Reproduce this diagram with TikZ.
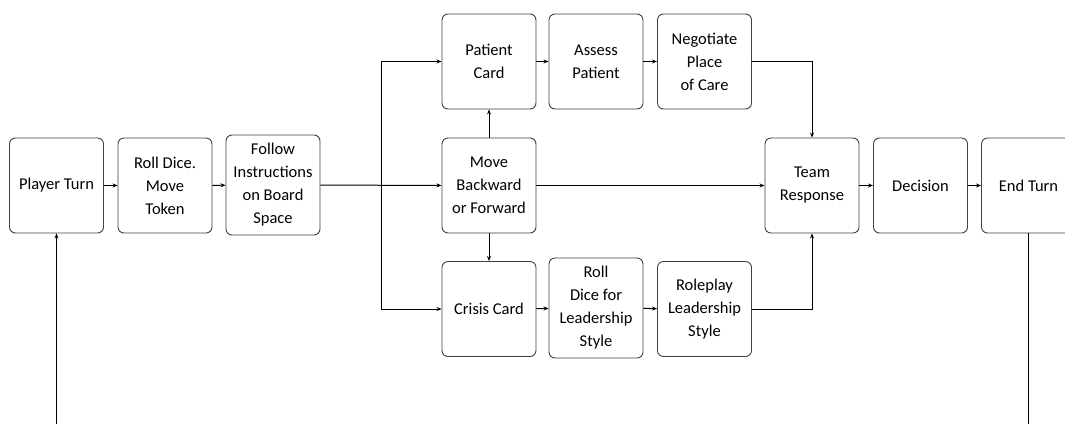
\documentclass[tikz,border=0pt]{standalone}
\usepackage{fontspec}
\setmainfont{Carlito}
\usetikzlibrary{arrows.meta}
\begin{document}
\begin{tikzpicture}[x=1pt,y=-1pt,
  box/.style={draw=black!75, line width=0.9pt, rounded corners=6pt, fill=white,
    minimum width=94pt, minimum height=95pt, inner sep=2pt, align=center,
    font=\fontsize{16.5}{23}\selectfont, text=black},
  tall/.style={minimum height=100pt},
  conn/.style={draw=black, line width=1pt},
  arr/.style={conn, -{Stealth[length=5pt,width=4pt]}}]
\useasboundingbox (0,0) rectangle (1065,424);
\begin{scope}
\clip (0,0) rectangle (1065,424);
\node[box] (pt) at (56.5,185.5) {Player Turn};
\node[box] (roll) at (165,185.5) {Roll Dice.\\Move\\Token};
\node[box,tall] (follow) at (273,185) {Follow\\Instructions\\on Board\\Space};
\node[box] (patient) at (489,61.5) {Patient\\Card};
\node[box] (assess) at (596,61.5) {Assess\\Patient};
\node[box] (negot) at (704.5,61.5) {Negotiate\\Place\\of Care};
\node[box] (move) at (489,185.5) {Move\\Backward\\or Forward};
\node[box] (crisis) at (489,309) {Crisis Card};
\node[box,tall] (rolld) at (596,308) {Roll\\Dice for\\Leadership\\Style};
\node[box] (role) at (704.5,309) {Roleplay\\Leadership\\Style};
\node[box] (team) at (812,185.5) {Team\\Response};
\node[box] (dec) at (920.5,185.5) {Decision};
\node[box] (endt) at (1028.5,185.5) {End Turn};
\coordinate (br) at (381,185.5);
\coordinate (lb) at (56.5,424);
\coordinate (rb) at (1028.5,424);

\draw[arr] (pt) -- (roll);
\draw[arr] (roll) -- (follow);
\draw[arr] (follow) -- (move);
\draw[arr] (br) |- (patient.west);
\draw[arr] (br) |- (crisis.west);
\draw[arr] (move) -- (patient);
\draw[arr] (move) -- (crisis);
\draw[arr] (patient) -- (assess);
\draw[arr] (assess) -- (negot);
\draw[arr] (crisis) -- (rolld);
\draw[arr] (rolld) -- (role);
\draw[arr] (move) -- (team);
\draw[arr] (negot.east) -| (team.north);
\draw[arr] (role.east) -| (team.south);
\draw[arr] (team) -- (dec);
\draw[arr] (dec) -- (endt);
\draw[conn] (endt.south) -- (rb);
\draw[arr] (lb) -- (pt.south);
\end{scope}
\end{tikzpicture}
\end{document}
